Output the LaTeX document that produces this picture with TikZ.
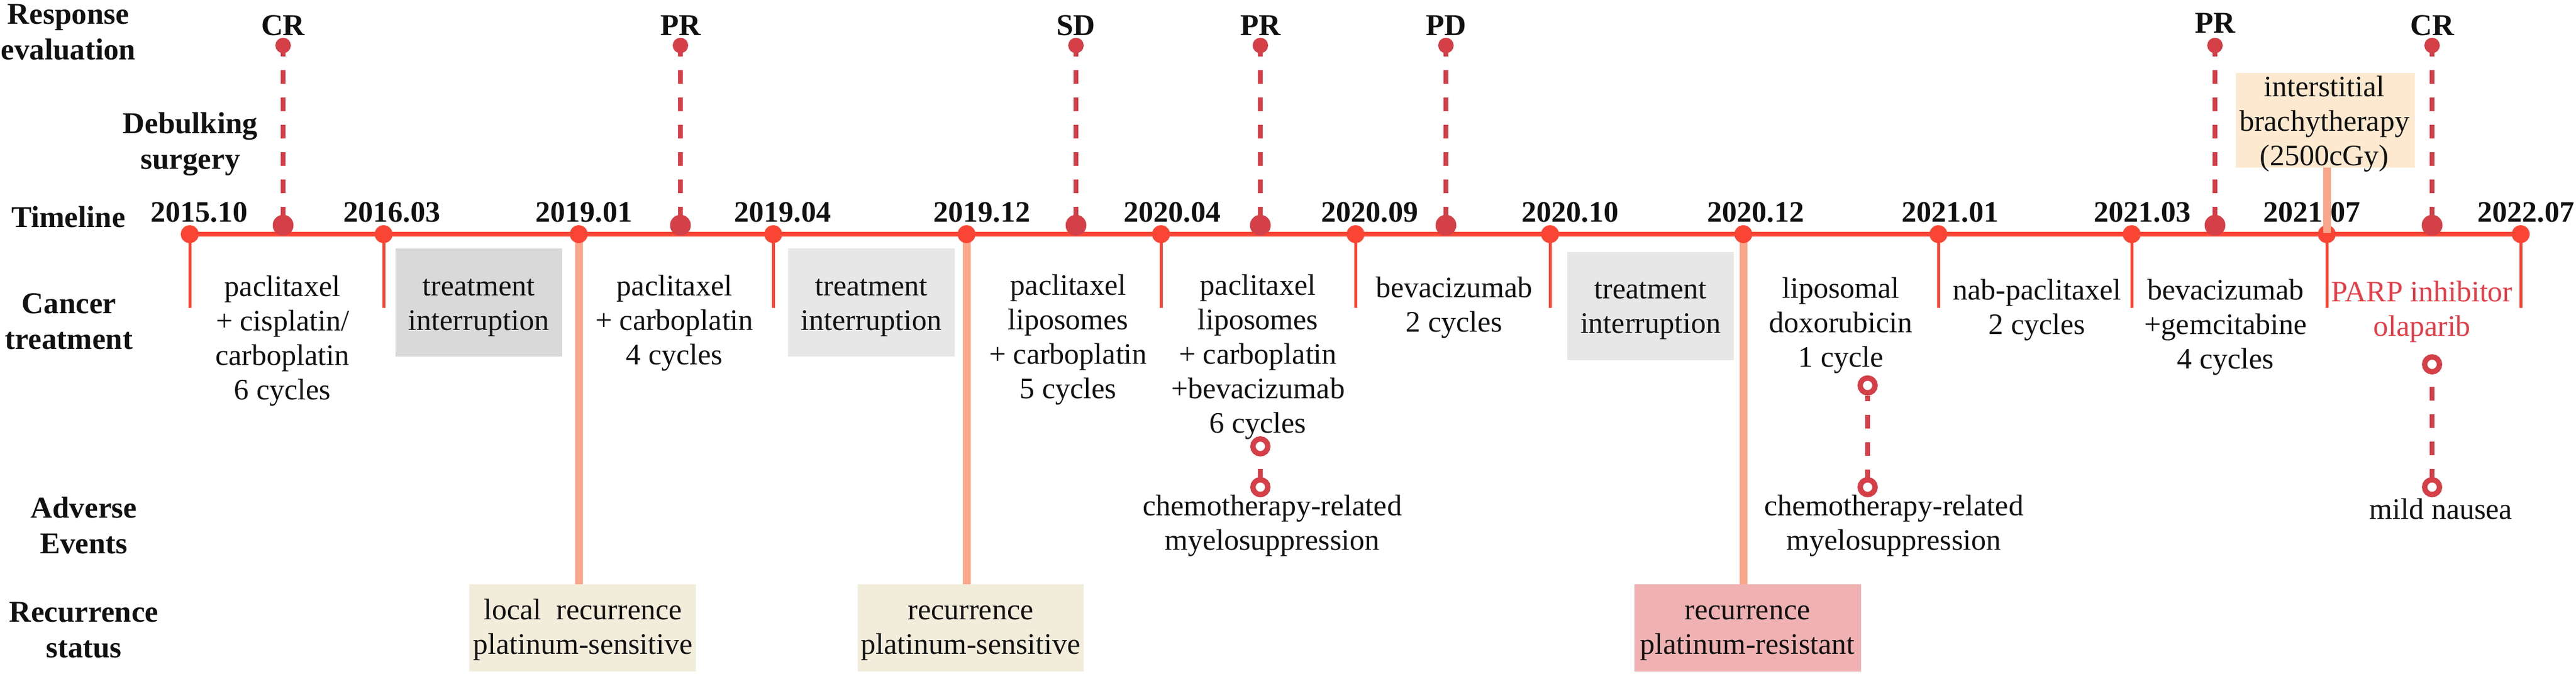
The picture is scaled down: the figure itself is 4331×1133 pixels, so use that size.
\documentclass[tikz,border=0pt]{standalone}
\usepackage{fontspec}
\setmainfont{Liberation Serif}
\definecolor{tlred}{RGB}{250,69,52}
\definecolor{rspred}{RGB}{212,63,72}
\definecolor{salmon}{RGB}{249,166,138}
\definecolor{grayA}{RGB}{217,217,217}
\definecolor{grayB}{RGB}{231,231,231}
\definecolor{beige}{RGB}{242,237,219}
\definecolor{pinkbox}{RGB}{240,177,178}
\definecolor{peach}{RGB}{253,233,207}
\definecolor{parpred}{RGB}{228,62,72}
\definecolor{ink}{RGB}{17,17,17}
\tikzset{
  lbl/.style={font=\fontsize{51}{60}\selectfont\bfseries, align=center, anchor=base, inner sep=0pt, text=ink},
  datelbl/.style={font=\fontsize{50}{60}\selectfont\bfseries, anchor=base, inner sep=0pt, text=ink},
  txt/.style={font=\fontsize{50}{58}\selectfont, align=center, anchor=base, inner sep=0pt, text=ink},
  boxshape/.style={rectangle, draw=none, inner sep=0pt},
  tline/.style={draw=tlred, line width=8pt},
  thinl/.style={draw=tlred, line width=5pt},
  sal/.style={draw=salmon, line width=13pt},
  tdot/.style={circle, fill=tlred, draw=none, minimum size=30pt, inner sep=0pt},
  rtop/.style={circle, fill=rspred, draw=none, minimum size=26pt, inner sep=0pt},
  rbot/.style={circle, fill=rspred, draw=none, minimum size=35pt, inner sep=0pt},
  rdash/.style={draw=rspred, line width=8.5pt, dash pattern=on 23pt off 23pt},
  ringnode/.style={circle, fill=white, draw=rspred, line width=9pt, minimum size=25pt, inner sep=0pt},
}
\begin{document}
\begin{tikzpicture}[x=1pt,y=-1pt]
\useasboundingbox[fill=white] (0,0) rectangle (4331,1133);

% (multi-line text nodes are placed by the baseline of their LAST line)

% recurrence status boxes
\node[boxshape, fill=beige, minimum width=381pt, minimum height=147pt] (r1) at (979.5,1056.5) {};
\node[boxshape, fill=beige, minimum width=380pt, minimum height=147pt] (r2) at (1632,1056.5) {};
\node[boxshape, fill=pinkbox, minimum width=381pt, minimum height=147pt] (r3) at (2938.5,1056.5) {};
\node[txt] (r1t) at (980,1100) {local\ \ recurrence\\platinum-sensitive};
\node[txt] (r2t) at (1632,1100) {recurrence\\platinum-sensitive};
\node[txt] (r3t) at (2938,1100) {recurrence\\platinum-resistant};

% treatment interruption boxes
\node[boxshape, fill=grayA, minimum width=280pt, minimum height=182pt] (b1) at (805,509) {};
\node[boxshape, fill=grayB, minimum width=280pt, minimum height=182pt] (b2) at (1465,509) {};
\node[boxshape, fill=grayB, minimum width=280pt, minimum height=182pt] (b3) at (2775,515) {};
\node[txt] (b1t) at (805,555) {treatment\\interruption};
\node[txt] (b2t) at (1465,555) {treatment\\interruption};
\node[txt] (b3t) at (2775,560) {treatment\\interruption};

% brachytherapy box
\node[boxshape, fill=peach, minimum width=301pt, minimum height=159pt] (bx) at (3909.5,202.5) {};

% timeline coordinates
\foreach \i/\x in {1/319,2/645,3/973,4/1300,5/1625,6/1952,7/2279,8/2606,9/2931,10/3259,11/3584,12/3912,13/4238}
  {\coordinate (d\i) at (\x,394);}
\coordinate (bot) at (0,518);

\draw[tline] (d1) -- (d13);

% recurrence connectors
\draw[sal] (d3) -- (d3 |- r1.north);
\draw[sal] (d5) -- (d5 |- r2.north);
\draw[sal] (d9) -- (d9 |- r3.north);

% thin ticks
\foreach \i in {1,2,4,6,7,8,10,11,12,13}
  {\coordinate (e\i) at (d\i |- bot);
   \draw[thinl] (d\i) -- (e\i);}

% timeline dots
\foreach \i in {1,...,13}
  {\node[tdot] (t\i) at (d\i) {};}

% dates
\foreach \i/\x/\d in {1/335/2015.10,2/659/2016.03,3/982/2019.01,4/1316/2019.04,5/1651/2019.12,6/1971/2020.04,7/2303/2020.09,8/2640/2020.10,9/2952/2020.12,10/3279/2021.01,11/3602/2021.03,12/3887/2021.07,13/4247/2022.07}
  {\node[datelbl] (dl\i) at (\x,373) {\d};}

% response evaluation
\foreach \i/\x/\l/\ly in {1/476/CR/59,2/1144/PR/59,3/1809/SD/59,4/2119/PR/59,5/2431/PD/59,6/3724/PR/55,7/4089/CR/59}
  {\node[rtop] (rt\i) at (\x,76.5) {};
   \node[rbot] (rb\i) at (\x,379) {};
   \draw[rdash, dash phase=4.5pt] (rt\i.center) -- (rb\i.center);
   \node[lbl] (rl\i) at (\x,\ly) {\l};}

% row labels
\node[lbl] (lab1) at (115,100) {Response\\evaluation};
\node[lbl] (lab2) at (320,284) {Debulking\\surgery};
\node[lbl] (lab3) at (115,382) {Timeline};
\node[lbl] (lab4) at (116,587) {Cancer\\treatment};
\node[lbl] (lab5) at (141,931) {Adverse\\Events};
\node[lbl] (lab6) at (141,1106) {Recurrence\\status};

% cancer treatments
\node[txt] (c1) at (475,672) {paclitaxel\\+ cisplatin/\\carboplatin\\6 cycles};
\node[txt] (c2) at (1134,613) {paclitaxel\\+ carboplatin\\4 cycles};
\node[txt] (c3) at (1796,670) {paclitaxel\\liposomes\\+ carboplatin\\5 cycles};
\node[txt] (c4) at (2115,728) {paclitaxel\\liposomes\\+ carboplatin\\+bevacizumab\\6 cycles};
\node[txt] (c5) at (2445,558) {bevacizumab\\2 cycles};
\node[txt] (c6) at (3095,617) {liposomal\\doxorubicin\\1 cycle};
\node[txt] (c7) at (3425,562) {nab-paclitaxel\\2 cycles};
\node[txt] (c8) at (3742,620) {bevacizumab\\+gemcitabine\\4 cycles};
\node[txt, text=parpred] (c9) at (4072,565) {PARP inhibitor\\olaparib};

% brachytherapy text and connector
\node[txt] (bxt) at (3908,278) {interstitial\\brachytherapy\\(2500cGy)};
\coordinate (bxend) at (3912,392);
\draw[sal] (d12 |- bx.south) -- (bxend);

% adverse events
\node[ringnode] (a1) at (2119,751) {};
\node[ringnode] (a2) at (2119,819.6) {};
\node[ringnode] (a3) at (3140,648.5) {};
\node[ringnode] (a4) at (3140,819.6) {};
\node[ringnode] (a5) at (4089,613) {};
\node[ringnode] (a6) at (4089,819.6) {};
\draw[rdash, dash phase=25.5pt] (a1.south) -- (a2.north);
\draw[rdash, dash phase=14pt] (a3.south) -- (a4.north);
\draw[rdash, dash phase=24.8pt] (a5.south) -- (a6.north);
\node[txt] (ae1) at (2139,925) {chemotherapy-related\\myelosuppression};
\node[txt] (ae2) at (3184,925) {chemotherapy-related\\myelosuppression};
\node[txt] (ae3) at (4104,873) {mild nausea};
\end{tikzpicture}
\end{document}
